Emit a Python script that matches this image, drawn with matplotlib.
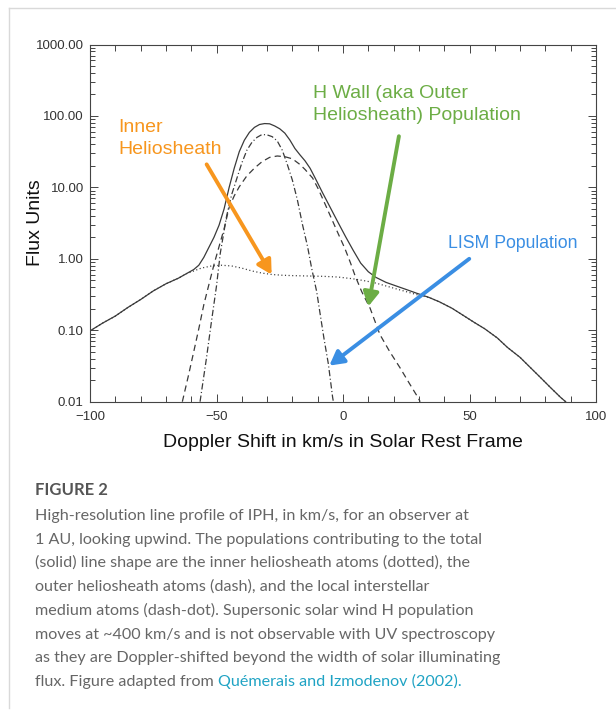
"""IPH line profile: total and contributing H populations vs Doppler shift"""
import matplotlib
matplotlib.use("Agg")
import matplotlib.pyplot as plt
from matplotlib.lines import Line2D

plt.rcParams["font.family"] = ["Liberation Sans", "DejaVu Sans"]
plt.rcParams["lines.scale_dashes"] = False

# ---- data (km/s, flux units) ----
total_x = [-100, -95, -90, -85, -80, -75, -70, -65, -62, -59, -57, -55, -53, -51, -49, -47,
           -45, -43, -41, -39, -37, -35, -33, -31, -29, -27, -25, -23, -21, -19, -17, -15,
           -13, -11, -8, -5, -2, 1, 4, 7, 10, 13, 17, 21, 25, 29, 34, 38, 43, 47, 52, 56,
           61, 65, 70, 74, 78, 82, 86, 88]
total_y = [0.098, 0.126, 0.158, 0.209, 0.269, 0.355, 0.447, 0.537, 0.617, 0.708, 0.813, 1.05,
           1.45, 2.0, 2.95, 5.0, 10.0, 18.5, 31.6, 45.7, 58.9, 69.2, 75.9, 78.2, 77.6, 72.4,
           66.1, 57.5, 46.0, 35.0, 28.5, 23.5, 18.5, 13.5, 8.3, 5.2, 3.25, 2.05, 1.32, 0.87,
           0.66, 0.55, 0.468, 0.417, 0.372, 0.331, 0.288, 0.251, 0.204, 0.166, 0.128, 0.105,
           0.078, 0.0575, 0.0417, 0.0302, 0.0219, 0.0158, 0.0115, 0.010]

inner_x = [-100, -95, -90, -85, -80, -75, -70, -65, -62, -59, -56, -52, -48, -44, -40, -36,
           -32, -28, -24, -20, -14, -8, -2, 4, 9, 13, 17, 21, 25, 29, 34, 38, 43, 47, 52, 56,
           61, 65, 70, 74, 78, 82, 86, 88]
inner_y = [0.098, 0.126, 0.158, 0.209, 0.269, 0.355, 0.447, 0.537, 0.617, 0.676, 0.741,
           0.794, 0.813, 0.794, 0.741, 0.676, 0.631, 0.603, 0.589, 0.582, 0.575, 0.569,
           0.556, 0.525, 0.49, 0.457, 0.417, 0.38, 0.347, 0.316, 0.288, 0.251, 0.204,
           0.166, 0.128, 0.105, 0.078, 0.0575, 0.0417, 0.0302, 0.0219, 0.0158, 0.0115, 0.010]

hwall_x = [-63.5, -61, -59, -57, -55, -53, -51, -49, -47, -45, -43, -41, -38, -35, -32, -29,
           -26, -23, -20, -17, -15, -12, -9.8, -7, -4.5, -2, 0.8, 3, 4.7, 7.4, 10.7, 14.6,
           18.5, 22.5, 26, 29.6, 30.5]
hwall_y = [0.010, 0.024, 0.050, 0.105, 0.229, 0.437, 0.83, 1.48, 2.63, 5.25, 7.6, 10.2,
           14.5, 18.6, 22.9, 26.3, 27.5, 26.9, 25.1, 20.9, 17.8, 13.5, 9.55, 5.75, 3.63,
           2.29, 1.38, 0.87, 0.589, 0.347, 0.204, 0.087, 0.050, 0.030, 0.0186, 0.0115, 0.010]

lism_x = [-56.5, -54, -52, -50, -48.5, -46, -44, -42, -40, -38, -36, -34, -32, -30, -28, -26,
          -24, -22, -20, -18, -16, -14, -12.4, -10.4, -9, -7.5, -5.8, -4.1, -3.8]
lism_y = [0.010, 0.040, 0.132, 0.417, 1.2, 3.98, 7.94, 13.2, 21.9, 33.1, 42.7, 50.1, 55.0,
          54.3, 51.3, 44.7, 33.1, 20.9, 12.6, 6.6, 3.0, 1.48, 0.74, 0.347, 0.166, 0.076,
          0.034, 0.0115, 0.010]

ytick_vals = [0.01, 0.1, 1, 10, 100, 1000]
ytick_labels = ["0.01", "0.10", "1.00", "10.00", "100.00", "1000.00"]
xtick_vals = [-100, -50, 0, 50, 100]

caption_lines = [
    "High-resolution line profile of IPH, in km/s, for an observer at",
    "1 AU, looking upwind. The populations contributing to the total",
    "(solid) line shape are the inner heliosheath atoms (dotted), the",
    "outer heliosheath atoms (dash), and the local interstellar",
    "medium atoms (dash-dot). Supersonic solar wind H population",
    "moves at ~400 km/s and is not observable with UV spectroscopy",
    "as they are Doppler-shifted beyond the width of solar illuminating",
]
caption_last = "flux. Figure adapted from "
caption_link = "Quémerais and Izmodenov (2002)."

W, H = 616, 713
fig = plt.figure(figsize=(W / 100, H / 100), dpi=100)


def fx(x):
    return x / W


def fy(y):
    return 1 - y / H


# light card border
fig.add_artist(Line2D([fx(9), 1], [fy(7.5), fy(7.5)], color="#d9d9d9", lw=1))
fig.add_artist(Line2D([fx(9), fx(9)], [fy(7.5), fy(708)], color="#d9d9d9", lw=1))

ax = fig.add_axes([fx(90), fy(401.7), (596 - 90) / W, (401.7 - 44.5) / H])

lc = "#3a3a3a"
ax.plot(total_x, total_y, color=lc, lw=0.9, ls="-")
ax.plot(inner_x, inner_y, color=lc, lw=0.9, ls=(0, (0.8, 1.8)))
ax.plot(hwall_x, hwall_y, color=lc, lw=0.9, ls=(0, (4.5, 3.0)))
ax.plot(lism_x, lism_y, color=lc, lw=0.9, ls=(0, (4.5, 1.8, 0.8, 1.8)))

ax.set_yscale("log")
ax.set_xlim(-100, 100)
ax.set_ylim(0.01, 1000)
ax.set_yticks(ytick_vals, ytick_labels)
ax.set_xticks(xtick_vals)
ax.set_xticks(range(-100, 101, 10), minor=True)

for s in ax.spines.values():
    s.set_color("#444444")
    s.set_linewidth(0.8)
ax.tick_params(which="both", direction="in", top=True, right=True, color="#444444",
               width=0.7, labelsize=9.5, labelcolor="#333333", pad=4.5)
ax.tick_params(axis="x", which="major", pad=6.5)
ax.tick_params(axis="both", which="major", length=6)
ax.tick_params(axis="x", which="minor", length=4.5)
ax.tick_params(axis="y", which="minor", length=3.5)

ax.set_xlabel("Doppler Shift in km/s in Solar Rest Frame", fontsize=14, color="#111111",
              labelpad=8)
ax.set_ylabel("Flux Units", fontsize=14, color="#111111")
ax.yaxis.set_label_coords(-0.091, 0.5)

# coloured annotations
orange, green, blue = "#F7961E", "#6CAD45", "#3A8EE3"
aprops = dict(arrowstyle="-|>,head_length=0.6,head_width=0.33", lw=2.8,
              mutation_scale=14, shrinkA=0, shrinkB=0)
ax.annotate("", xy=(-28.2, 0.6), xytext=(-53.9, 21),
            arrowprops=dict(color=orange, **aprops))
ax.annotate("", xy=(10.0, 0.215), xytext=(22.1, 52),
            arrowprops=dict(color=green, **aprops))
ax.annotate("", xy=(-5.4, 0.032), xytext=(49.9, 1.0),
            arrowprops=dict(color=blue, **aprops))

fig.text(fx(118), fy(131.7), "Inner", color=orange, fontsize=14, va="baseline")
fig.text(fx(118), fy(154), "Heliosheath", color=orange, fontsize=14, va="baseline")
fig.text(fx(313), fy(98.3), "H Wall (aka Outer", color=green, fontsize=14, va="baseline")
fig.text(fx(313), fy(120.5), "Heliosheath) Population", color=green, fontsize=14,
         va="baseline")
fig.text(fx(448), fy(248), "LISM Population", color=blue, fontsize=12.7, va="baseline")

# caption
cap_font = ["Lato", "DejaVu Sans"]
fig.text(fx(35), fy(495), "FIGURE 2", family=cap_font, fontsize=12, fontweight="bold",
         color="#555555", va="baseline")
base = 520
step = 23.7
for i, line in enumerate(caption_lines):
    fig.text(fx(35), fy(base + i * step), line, family=cap_font, fontsize=11.6,
             color="#666666", va="baseline")
t_last = fig.text(fx(35), fy(base + 7 * step), caption_last, family=cap_font, fontsize=11.6,
                  color="#666666", va="baseline")
ax.annotate(caption_link, xy=(1, 0), xycoords=t_last, ha="left", va="bottom",
            family=cap_font, fontsize=11.6, color="#1FA3C4", annotation_clip=False)

fig.savefig("out.png", dpi=100)
